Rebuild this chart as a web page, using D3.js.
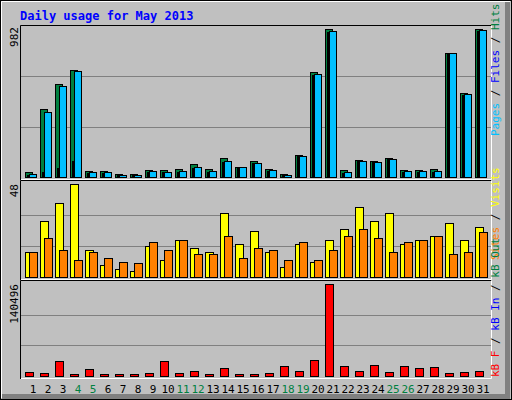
<!DOCTYPE html>
<html><head><meta charset="utf-8">
<script src="https://cdn.jsdelivr.net/npm/d3@7"></script>
<style>body{margin:0}svg text{font-family:"DejaVu Sans Mono",monospace}</style>
</head><body>
<script>
// daily usage data
var days = d3.range(1, 32);
var weekend = [4, 5, 11, 12, 18, 19, 25, 26];
var hits  = [33,442,605,696,39,39,20,20,46,46,52,85,52,124,65,104,52,20,143,683,963,46,111,104,124,46,46,52,806,546,963];
var files = [20,423,592,690,33,33,15,15,39,33,39,65,39,106,65,91,46,15,137,670,950,33,101,98,117,39,39,39,806,540,956];
var pages = [15,30,58,104,25,25,10,10,35,30,35,60,35,100,60,90,40,10,137,665,945,25,101,98,117,30,30,30,806,535,950];
var visits = [13,29,38,48,14,6,4,3,16,9,19,15,13,33,17,24,13,5,17,8,19,25,36,29,33,17,19,21,28,19,26];
var sites  = [13,20,14,9,13,10,8,7,18,14,19,12,12,21,10,15,14,9,18,9,14,21,25,20,13,18,19,21,12,13,23];
var kbytes = [5640,4100,22560,2560,10250,2560,2560,2560,4100,22560,4100,7180,2560,11790,2560,2560,4100,14870,7180,24100,140496,14870,7180,16410,5640,14870,11790,13330,4100,5640,7180];

var svg = d3.select("body").append("svg").attr("width", 512).attr("height", 400);

svg.append("rect").attr("width", 512).attr("height", 400).attr("fill", "#c0c0c0");
svg.append("rect").attr("x", 0.5).attr("y", 0.5).attr("width", 511).attr("height", 399).attr("fill", "none").attr("stroke", "#000");
svg.append("path").attr("d", "M1.5,398V1.5H510").attr("stroke", "#fff").attr("fill", "none");
svg.append("path").attr("d", "M507.5,2V396.5H2").attr("stroke", "#808080").attr("stroke-width", 5).attr("fill", "none");

svg.append("text").attr("x", 20).attr("y", 20).text("Daily usage for May 2013")
  .attr("fill", "#0000ff").attr("font-weight", "bold").attr("font-size", 12);

var x = d3.scaleLinear().domain([1, 31]).range([25, 475]);

function panel(y0, y1) {
  svg.append("path").attr("d", "M20.5," + y1 + "V" + (y0 + 0.5) + "H491").attr("stroke", "#000").attr("fill", "none");
  svg.append("path").attr("d", "M21," + (y1 - 0.5) + "H491.5V" + (y0 + 1)).attr("stroke", "#fff").attr("fill", "none");
}
function grid(y, base, top) {
  [1, 2].forEach(function(k) {
    var gy = Math.round(base - (base - top) * k / 3) + 0.5;
    svg.append("line").attr("x1", 21).attr("x2", 491).attr("y1", gy).attr("y2", gy).attr("stroke", "#808080");
  });
}
function bars(data, y, dx, w, color) {
  svg.append("g").selectAll("rect").data(data).enter().append("rect")
    .attr("x", function(d, i) { return x(days[i]) + dx + 0.5; })
    .attr("y", function(d) { return Math.round(y(d)) + 0.5; })
    .attr("width", w)
    .attr("height", function(d) { return Math.max(1, y(0) - Math.round(y(d))); })
    .attr("fill", color).attr("stroke", "#000");
}
function ylabel(txt, yTop) {
  svg.append("text").attr("transform", "translate(18," + yTop + ") rotate(-90)")
    .attr("text-anchor", "end").attr("font-size", 11).attr("fill", "#000").text(txt);
}
function rlabel(parts, yBottom) {
  var t = svg.append("text").attr("transform", "translate(499," + yBottom + ") rotate(-90)")
    .attr("font-size", 11);
  parts.forEach(function(p) { t.append("tspan").attr("fill", p[1]).text(p[0]); });
}

// top panel: hits / files / pages
panel(25, 180);
var y1 = d3.scaleLinear().domain([0, 982]).range([177, 26]);
grid(y1, 177, 26);
bars(hits, y1, 0, 7, "#008040");
bars(files, y1, 4, 7, "#00c0ff");
bars(pages, y1, 2, 1, "#0000ff");
ylabel("982", 27);
rlabel([["Pages", "#00c0ff"], [" / ", "#000"], ["Files", "#0000ff"], [" / ", "#000"], ["Hits", "#008040"]], 136);

// middle panel: visits / sites
panel(180, 280);
var y2 = d3.scaleLinear().domain([0, 48]).range([277, 184]);
grid(y2, 277, 184);
bars(visits, y2, 0, 8, "#ffff00");
bars(sites, y2, 4, 8, "#ff8000");
ylabel("48", 184);
rlabel([["Sites", "#ff8000"], [" / ", "#000"], ["Visits", "#ffff00"]], 260);

// bottom panel: kbytes
panel(280, 379);
var y3 = d3.scaleLinear().domain([0, 140496]).range([376, 284]);
grid(y3, 376, 284);
bars(kbytes, y3, 0, 8, "#ff0000");
ylabel("140496", 284);
rlabel([["kB F", "#ff0000"], [" / ", "#000"], ["kB In", "#0000ff"], [" / ", "#000"], ["kB Out", "#008040"]], 377);

// day labels
svg.append("g").selectAll("text").data(days).enter().append("text")
  .attr("x", function(d) { return x(d) + 8; }).attr("y", 393)
  .attr("text-anchor", "middle").attr("font-size", 11)
  .attr("fill", function(d) { return weekend.indexOf(d) >= 0 ? "#008040" : "#000"; })
  .text(function(d) { return d; });
</script>
</body></html>
